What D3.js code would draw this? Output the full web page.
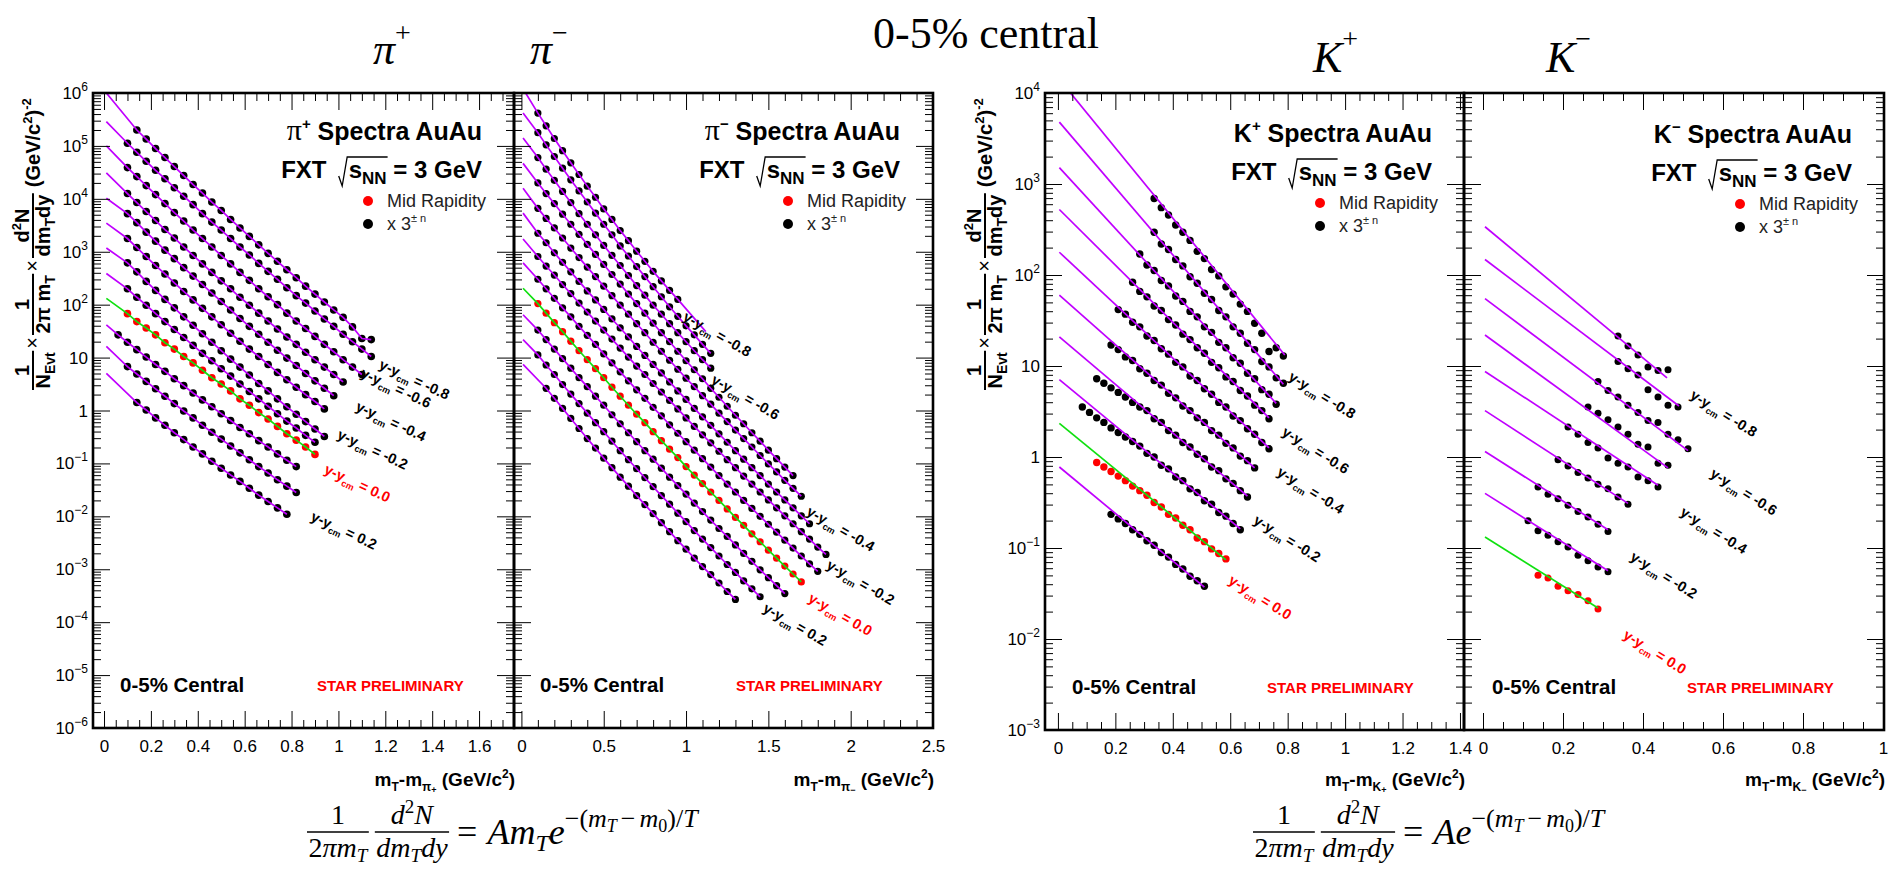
<!DOCTYPE html>
<html>
<head>
<meta charset="utf-8">
<script src="https://cdn.jsdelivr.net/npm/d3@7"></script>
<style>
  body { margin: 0; background: #fff; }
  svg { display: block; font-family: "Liberation Sans", Arial, Helvetica, sans-serif; }
</style>
</head>
<body>
<svg id="svg"></svg>
<script>
const _ = null;

// ---------------- data (log10 of the yield, one row per rapidity slice) ----------------
// pi+ : m_T - m_pi grid
const piPlusX = [0.06,0.10,0.14,0.18,0.22,0.26,0.30,0.34,0.38,0.42,0.46,0.50,0.54,0.58,0.62,0.66,0.70,0.74,0.78,0.82,0.86,0.90,0.94,0.98,1.02,1.06,1.10,1.14];
const piPlusRap = [-0.8,-0.7,-0.6,-0.5,-0.4,-0.3,-0.2,-0.1,0.0,0.1,0.2,0.3];
const piPlusLogY = [
  [_,_,5.30,5.13,4.95,4.78,4.61,4.44,4.27,4.11,3.94,3.78,3.61,3.45,3.29,3.13,2.97,2.82,2.66,2.51,2.35,2.20,2.05,1.90,1.76,1.58,1.36,1.34],
  [_,5.05,4.88,4.71,4.54,4.38,4.21,4.05,3.89,3.72,3.56,3.41,3.25,3.09,2.94,2.78,2.63,2.48,2.32,2.17,2.03,1.88,1.73,1.59,1.44,1.30,1.16,1.02],
  [_,4.59,4.42,4.25,4.08,3.91,3.74,3.58,3.41,3.25,3.09,2.93,2.77,2.61,2.46,2.30,2.15,2.00,1.84,1.69,1.55,1.40,1.25,1.11,0.96,0.82,0.68],
  [_,4.10,3.93,3.76,3.59,3.42,3.26,3.09,2.93,2.77,2.61,2.45,2.30,2.14,1.99,1.84,1.69,1.54,1.39,1.25,1.10,0.96,0.82,0.68,0.54],
  [_,3.72,3.55,3.37,3.20,3.03,2.87,2.70,2.54,2.38,2.22,2.06,1.90,1.74,1.59,1.44,1.29,1.14,0.99,0.85,0.70,0.56,0.42,0.28],
  [_,3.25,3.08,2.91,2.74,2.58,2.41,2.25,2.09,1.93,1.77,1.62,1.46,1.31,1.16,1.02,0.87,0.72,0.58,0.44,0.30,0.17,0.03],
  [_,2.79,2.62,2.44,2.27,2.10,1.94,1.77,1.61,1.45,1.29,1.13,0.97,0.82,0.67,0.51,0.37,0.22,0.07,-0.07,-0.21,-0.35,-0.49],
  [_,2.30,2.14,1.99,1.83,1.68,1.53,1.38,1.23,1.08,0.94,0.79,0.65,0.50,0.36,0.22,0.08,-0.06,-0.20,-0.33,-0.47,-0.60],
  [_,1.83,1.68,1.56,1.43,1.28,1.16,1.02,0.90,0.76,0.62,0.50,0.37,0.22,0.10,-0.04,-0.16,-0.30,-0.44,-0.56,-0.69,-0.83],
  [1.43,1.29,1.15,1.01,0.87,0.74,0.60,0.47,0.33,0.20,0.07,-0.06,-0.19,-0.32,-0.44,-0.57,-0.69,-0.82,-0.94,-1.06],
  [_,0.83,0.69,0.55,0.41,0.27,0.13,-0.01,-0.14,-0.28,-0.41,-0.54,-0.67,-0.80,-0.93,-1.06,-1.18,-1.31,-1.43,-1.55],
  [_,_,0.15,0.01,-0.14,-0.28,-0.42,-0.55,-0.69,-0.82,-0.96,-1.09,-1.22,-1.34,-1.47,-1.60,-1.72,-1.84,-1.96]
];
const piPlusFitStart = [6.00,5.46,5.00,4.49,4.01,3.54,3.07,2.59,2.12,1.62,1.21,0.70];

// pi- : m_T - m_pi grid
const piMinusX = [0.10,0.15,0.20,0.25,0.30,0.35,0.40,0.45,0.50,0.55,0.60,0.65,0.70,0.75,0.80,0.85,0.90,0.95,1.00,1.05,1.10,1.15,1.20,1.25,1.30,1.35,1.40,1.45,1.50,1.55,1.60,1.65,1.70,1.75,1.80,1.85];
const piMinusRap = [-0.8,-0.7,-0.6,-0.5,-0.4,-0.3,-0.2,-0.1,0.0,0.1,0.2,0.3];
const piMinusLogY = [
  [5.62,5.38,5.14,4.91,4.68,4.46,4.24,4.03,3.81,3.61,3.40,3.21,3.01,2.82,2.63,2.45,2.27,2.10],
  [5.25,5.02,4.80,4.58,4.36,4.15,3.94,3.73,3.52,3.32,3.11,2.92,2.72,2.53,2.34,2.15,1.96,1.78,1.60,1.43,1.25,1.08],
  [4.78,4.56,4.35,4.14,3.93,3.72,3.52,3.32,3.12,2.93,2.74,2.55,2.36,2.18,1.99,1.82,1.64,1.47,1.30,1.13,0.96,0.80],
  [4.30,4.10,3.91,3.71,3.52,3.33,3.14,2.95,2.76,2.57,2.39,2.20,2.02,1.84,1.65,1.47,1.30,1.12,0.94,0.77,0.60,0.42,0.25,0.08,-0.09,-0.25,-0.42,-0.58,-0.75,-0.91,-1.07,-1.23],
  [3.82,3.63,3.45,3.26,3.07,2.89,2.71,2.53,2.35,2.17,1.99,1.82,1.64,1.47,1.29,1.12,0.95,0.78,0.61,0.45,0.28,0.12,-0.05,-0.21,-0.37,-0.53,-0.69,-0.85,-1.01,-1.16,-1.32,-1.47,-1.62],
  [3.35,3.17,2.98,2.80,2.62,2.44,2.26,2.09,1.91,1.73,1.56,1.39,1.21,1.04,0.87,0.71,0.54,0.37,0.21,0.04,-0.12,-0.28,-0.44,-0.60,-0.76,-0.92,-1.08,-1.23,-1.39,-1.54,-1.69,-1.84,-1.99,-2.14],
  [2.91,2.73,2.56,2.38,2.21,2.03,1.86,1.69,1.52,1.35,1.18,1.01,0.84,0.68,0.51,0.35,0.19,0.03,-0.14,-0.30,-0.46,-0.61,-0.77,-0.93,-1.08,-1.24,-1.39,-1.54,-1.69,-1.84,-1.99,-2.14,-2.29,-2.43,-2.58,-2.72],
  [2.48,2.30,2.12,1.94,1.77,1.59,1.42,1.25,1.07,0.90,0.73,0.56,0.39,0.23,0.06,-0.10,-0.27,-0.43,-0.59,-0.75,-0.91,-1.07,-1.23,-1.39,-1.54,-1.70,-1.85,-2.00,-2.15,-2.30,-2.45,-2.60,-2.75,-2.90,-3.04],
  [2.02,1.84,1.66,1.49,1.31,1.13,0.96,0.79,0.62,0.44,0.27,0.10,-0.07,-0.23,-0.40,-0.57,-0.73,-0.89,-1.06,-1.22,-1.38,-1.54,-1.70,-1.86,-2.02,-2.17,-2.33,-2.48,-2.64,-2.79,-2.94,-3.09,-3.24],
  [1.52,1.34,1.16,0.98,0.80,0.62,0.45,0.27,0.10,-0.08,-0.25,-0.42,-0.59,-0.76,-0.92,-1.09,-1.26,-1.42,-1.58,-1.75,-1.91,-2.07,-2.23,-2.38,-2.54,-2.70,-2.85,-3.01,-3.16,-3.31,-3.46],
  [1.05,0.86,0.68,0.49,0.31,0.13,-0.05,-0.23,-0.40,-0.58,-0.76,-0.93,-1.10,-1.27,-1.44,-1.61,-1.77,-1.94,-2.10,-2.27,-2.43,-2.59,-2.75,-2.91,-3.06,-3.22,-3.37,-3.52],
  [_,0.42,0.23,0.04,-0.15,-0.34,-0.53,-0.71,-0.90,-1.08,-1.26,-1.43,-1.61,-1.78,-1.95,-2.12,-2.29,-2.46,-2.62,-2.79,-2.95,-3.10,-3.26,-3.42,-3.57]
];
const piMinusFitStart = [6.08,5.62,5.15,4.67,4.20,3.73,3.24,2.79,2.31,1.81,1.34,0.87];
const piMinusFitTail = [[1.12,1.49],_,_,_,_,_,_,_,_,_,_,_];

// K+ : m_T - m_K grid
const kPlusX = [0.085,0.11,0.135,0.16,0.185,0.21,0.235,0.26,0.285,0.31,0.335,0.36,0.385,0.41,0.435,0.46,0.485,0.51,0.535,0.56,0.585,0.61,0.635,0.66,0.685,0.71,0.735,0.76,0.785];
const kPlusRap = [-0.8,-0.7,-0.6,-0.5,-0.4,-0.3,-0.2,-0.1,0.0,0.1];
const kPlusLogY = [
  [_,_,_,_,_,_,_,_,_,_,2.84,2.74,2.66,2.55,2.47,2.38,2.26,2.18,2.06,1.99,1.87,1.79,1.68,1.60,1.47,1.36,1.16,1.20,1.11],
  [_,_,_,_,_,_,_,_,_,_,2.47,2.34,2.28,2.17,2.10,1.98,1.91,1.80,1.73,1.61,1.54,1.43,1.36,1.25,1.18,1.05,0.99,0.87,0.81],
  [_,_,_,_,_,_,_,_,2.23,2.11,2.05,1.94,1.88,1.77,1.71,1.60,1.54,1.43,1.37,1.26,1.20,1.09,1.03,0.92,0.86,0.74,0.69,0.58],
  [_,_,_,_,_,_,_,1.92,1.82,1.76,1.66,1.61,1.51,1.45,1.35,1.29,1.20,1.14,1.04,0.98,0.88,0.83,0.73,0.67,0.57,0.51,0.42],
  [_,_,_,_,_,1.62,1.57,1.48,1.43,1.33,1.28,1.19,1.13,1.04,0.99,0.89,0.84,0.75,0.69,0.60,0.55,0.45,0.40,0.31,0.25,0.16,0.09],
  [_,_,_,_,1.23,1.18,1.10,1.06,0.97,0.92,0.84,0.79,0.70,0.65,0.56,0.51,0.43,0.38,0.29,0.24,0.15,0.10,0.01,-0.04,-0.12],
  [_,_,0.86,0.81,0.76,0.71,0.66,0.60,0.55,0.51,0.42,0.38,0.29,0.24,0.16,0.11,0.03,-0.02,-0.11,-0.15,-0.24,-0.29,-0.37,-0.44],
  [0.55,0.49,0.43,0.38,0.32,0.27,0.22,0.17,0.12,0.04,0.00,-0.09,-0.13,-0.22,-0.26,-0.35,-0.39,-0.48,-0.52,-0.61,-0.65,-0.73,-0.80],
  [_,_,-0.06,-0.11,-0.16,-0.21,-0.26,-0.32,-0.37,-0.42,-0.50,-0.55,-0.63,-0.67,-0.75,-0.80,-0.89,-0.93,-1.01,-1.06,-1.12],
  [_,_,_,_,-0.63,-0.68,-0.73,-0.80,-0.85,-0.92,-0.97,-1.05,-1.10,-1.18,-1.23,-1.31,-1.36,-1.42]
];
const kPlusFitStart = [4.15,3.68,3.18,2.72,2.25,1.78,1.32,0.85,0.37,-0.11];
const kPlusFitEnd = [[0.79,1.12],[0.785,0.80],[0.76,0.59],[0.735,0.43],[0.735,0.10],[0.685,-0.12],[0.66,-0.43],[0.635,-0.79],[0.585,-1.13],[0.51,-1.43]];

// K- : m_T - m_K grid
const kMinusX = [0.1125,0.1375,0.1625,0.1875,0.2125,0.2375,0.2625,0.2875,0.3125,0.3375,0.3625,0.3875,0.4125,0.4375,0.4625,0.4875,0.5125];
const kMinusRap = [-0.8,-0.7,-0.6,-0.5,-0.4,-0.3,-0.2,-0.1,0.0];
const kMinusLogY = [
  [_,_,_,_,_,_,_,_,_,1.33,1.22,1.12,0.99,0.95,0.96],
  [_,_,_,_,_,_,_,_,_,1.05,0.97,0.90,0.74,0.66,0.57,0.55],
  [_,_,_,_,_,_,_,0.83,0.73,0.66,0.57,0.49,0.40,0.38,0.25,0.19,0.09],
  [_,_,_,_,_,_,0.55,0.48,0.41,0.33,0.25,0.14,0.11,-0.07,-0.09],
  [_,_,_,_,0.33,0.25,0.16,0.10,-0.01,-0.07,-0.11,-0.22,-0.26,-0.33],
  [_,_,_,-0.03,-0.10,-0.17,-0.23,-0.30,-0.35,-0.44,-0.52],
  [_,-0.33,-0.41,-0.46,-0.53,-0.60,-0.66,-0.74,-0.82],
  [-0.70,-0.81,-0.86,-0.93,-0.99,-1.08,-1.14,-1.21,-1.26],
  [_,-1.30,-1.33,-1.42,-1.47,-1.51,-1.58,-1.67]
];
const kMinusFitStart = [2.53,2.17,1.74,1.34,0.94,0.51,0.06,-0.40,-0.88];
const kMinusFitEnd = [[0.46,0.87],[0.49,0.56],[0.5125,0.07],[0.4625,-0.12],[0.4375,-0.31],[0.3625,-0.51],[0.3125,-0.80],[0.3125,-1.25],[0.2875,-1.66]];

// rapidity labels drawn beside the spectra: [rapidity, x, log10 y] (layout)
const piPlusLabelPos = [[-0.8,1.189,0.99],[-0.6,1.11,0.83],[-0.4,1.089,0.20],[-0.2,1.011,-0.33],[0.0,0.955,-0.99],[0.2,0.898,-1.88]];
const piMinusLabelPos = [[-0.8,1.009,1.90],[-0.6,1.181,0.71],[-0.4,1.759,-1.78],[-0.2,1.880,-2.79],[0.0,1.77,-3.42],[0.2,1.495,-3.61]];
const kPlusLabelPos = [[-0.8,0.82,0.956],[-0.6,0.797,0.35],[-0.4,0.78,-0.09],[-0.2,0.698,-0.62],[0.0,0.611,-1.28]];
const kMinusLabelPos = [[-0.8,0.53,0.755],[-0.6,0.58,-0.106],[-0.4,0.505,-0.53],[-0.2,0.38,-1.02],[0.0,0.363,-1.88]];

// ---------------- drawing ----------------
const W = 1889, H = 871;
const SANS = '"Liberation Sans", Arial, Helvetica, sans-serif';
const SERIF = '"Liberation Serif", "Times New Roman", serif';
const PURPLE = "#c000ff", GREEN = "#10e010", RED = "#ff0000";

const svg = d3.select("#svg").attr("width", W).attr("height", H);
svg.append("rect").attr("width", W).attr("height", H).attr("fill", "#fff");

function addText(parent, x, y, parts, style = {}) {
  const t = parent.append("text").attr("x", x).attr("y", y);
  Object.entries(style).forEach(([k, v]) => t.style(k, v));
  parts.forEach(p => {
    const s = t.append("tspan").text(p.t);
    if (p.dx) s.attr("dx", p.dx);
    if (p.dy) s.attr("dy", p.dy);
    if (p.size) s.style("font-size", p.size + "px");
    if (p.weight) s.style("font-weight", p.weight);
    if (p.style) s.style("font-style", p.style);
    if (p.family) s.style("font-family", p.family);
  });
  return t;
}

// fraction: numerator over denominator, bar at barY, returns right end
function frac(g, u, num, den, numBase, denBase, barW, barY = 0) {
  const n = addText(g, 0, numBase, num);
  const d = addText(g, 0, denBase, den);
  const wn = n.node().getComputedTextLength();
  const wd = d.node().getComputedTextLength();
  const w = Math.max(wn, wd) + 3;
  n.attr("x", u + (w - wn) / 2);
  d.attr("x", u + (w - wd) / 2);
  g.append("line").attr("x1", u).attr("x2", u + w).attr("y1", barY).attr("y2", barY)
    .attr("stroke", "#000").attr("stroke-width", barW);
  return u + w;
}

function drawYTitle(cx, yStart) {
  const g = svg.append("g").attr("transform", `translate(${cx},${yStart}) rotate(-90)`)
    .style("font-family", SANS).style("font-size", "20px").style("font-weight", "bold");
  let u = 0;
  u = frac(g, u, [{t: "1"}], [{t: "N"}, {t: "Evt", size: 14, dy: 5}], -4, 17, 2);
  let t = addText(g, u + 2, 6, [{t: "\u00d7", weight: "normal"}]);
  u += 4 + t.node().getComputedTextLength();
  u = frac(g, u, [{t: "1"}], [{t: "2\u03c0 m"}, {t: "T", size: 14, dy: 5}], -4, 17, 2);
  t = addText(g, u + 2, 6, [{t: "\u00d7", weight: "normal"}]);
  u += 4 + t.node().getComputedTextLength();
  u = frac(g, u, [{t: "d"}, {t: "2", size: 13, dy: -8}, {t: "N", dy: 8}],
    [{t: "dm"}, {t: "T", size: 14, dy: 5}, {t: "dy", dy: -5}], -4, 17, 2);
  addText(g, u + 6, 7, [{t: "(GeV/c"}, {t: "2", size: 13, dy: -8}, {t: ")", dy: 8}, {t: "-2", size: 13, dy: -9}]);
}

function rapLabel(g, px, py, angle, rap, color) {
  const txt = rap === 0 ? "0.0" : rap.toFixed(1);
  const t = g.append("text").attr("transform", `translate(${px},${py}) rotate(${angle})`)
    .attr("y", 11).style("font-size", "14.5px").style("font-weight", "bold").attr("fill", color);
  t.append("tspan").text("y-y");
  t.append("tspan").text("cm").style("font-size", "9px").attr("dy", 4);
  t.append("tspan").text(" = " + txt).attr("dy", -4);
}

function fxtLine(g, xr, yb) {
  const t = addText(g, xr, yb, [{t: "FXT"}, {t: "s", dx: 24}, {t: "NN", size: 17, dy: 6}, {t: " = 3 GeV", dy: -6}],
    {"text-anchor": "end", "font-size": "24px", "font-weight": "bold"});
  const n = t.node();
  const e1 = n.getExtentOfChar(3), e2 = n.getExtentOfChar(5);
  const sx = e1.x, ex = e2.x + e2.width;
  g.append("path").attr("d", `M${sx - 10},${yb - 2} L${sx - 6.5},${yb + 8} L${sx - 1.5},${yb - 21} L${ex + 1},${yb - 21}`)
    .attr("fill", "none").attr("stroke", "#000").attr("stroke-width", 1.3);
}

function drawPanel(p) {
  const x = d3.scaleLinear().domain(p.xDomain).range([p.left, p.right]);
  const y = d3.scaleLog().domain(p.yDomain).range([p.bottom, p.top]);
  const yv = L => y(Math.pow(10, L));
  const g = svg.append("g");
  const clipId = "clip-" + p.key;
  svg.append("clipPath").attr("id", clipId).append("rect")
    .attr("x", p.left).attr("y", p.top).attr("width", p.right - p.left).attr("height", p.bottom - p.top);
  const plot = g.append("g").attr("clip-path", `url(#${clipId})`);

  const points = si => {
    const pts = [];
    p.rows[si].forEach((v, k) => { if (v !== null) pts.push([p.xs[k], v]); });
    return pts;
  };

  // measured points
  p.rows.forEach((row, si) => {
    plot.append("g").selectAll("circle").data(points(si)).join("circle")
      .attr("cx", d => x(d[0])).attr("cy", d => yv(d[1])).attr("r", p.r)
      .attr("fill", p.rap[si] === 0 ? RED : "#000");
  });

  // fit curves
  const line = d3.line().x(d => x(d[0])).y(d => yv(d[1]));
  p.rows.forEach((row, si) => {
    plot.append("path").datum(p.fit(si, points(si))).attr("d", line).attr("fill", "none")
      .attr("stroke", p.rap[si] === 0 ? GREEN : PURPLE).attr("stroke-width", 1.7);
  });

  // axes
  const steps = (max, s) => d3.range(0, Math.round(max / s) + 1).map(i => +(i * s).toFixed(4));
  const major = steps(p.xMax, p.xMajor);
  const minor = steps(p.xDomain[1], p.xMinor)
    .filter(v => v <= p.xDomain[1] && !major.some(m => Math.abs(m - v) < 1e-6));
  const e0 = Math.round(Math.log10(p.yDomain[0])), e1 = Math.round(Math.log10(p.yDomain[1]));
  const decades = d3.range(e0, e1 + 1).map(e => Math.pow(10, e));
  const yMinor = [];
  decades.slice(0, -1).forEach(d => { for (let m = 2; m <= 9; m++) yMinor.push(d * m); });

  const axG = g.append("g");
  const mk = (axis, tr) => axG.append("g").attr("transform", tr).call(axis).call(s => s.select(".domain").remove());
  mk(d3.axisBottom(x).tickValues(major).tickSizeInner(-17).tickSizeOuter(0).tickPadding(12).tickFormat(d => String(d)), `translate(0,${p.bottom})`);
  mk(d3.axisBottom(x).tickValues(minor).tickSizeInner(-8).tickSizeOuter(0).tickFormat(""), `translate(0,${p.bottom})`);
  mk(d3.axisTop(x).tickValues(major).tickSizeInner(-17).tickSizeOuter(0).tickFormat(""), `translate(0,${p.top})`);
  mk(d3.axisTop(x).tickValues(minor).tickSizeInner(-8).tickSizeOuter(0).tickFormat(""), `translate(0,${p.top})`);
  mk(d3.axisLeft(y).tickValues(decades).tickSizeInner(-17).tickSizeOuter(0).tickFormat(""), `translate(${p.left},0)`);
  mk(d3.axisLeft(y).tickValues(yMinor).tickSizeInner(-8).tickSizeOuter(0).tickFormat(""), `translate(${p.left},0)`);
  mk(d3.axisRight(y).tickValues(decades).tickSizeInner(-17).tickSizeOuter(0).tickFormat(""), `translate(${p.right},0)`);
  mk(d3.axisRight(y).tickValues(yMinor).tickSizeInner(-8).tickSizeOuter(0).tickFormat(""), `translate(${p.right},0)`);
  axG.selectAll("line").attr("stroke", "#000").attr("stroke-width", 1);
  axG.selectAll("text").style("font-size", "17px").style("font-family", SANS).attr("fill", "#000");

  if (p.yLabels) {
    d3.range(e0, e1 + 1).forEach(e => {
      const parts = e === 0 ? [{t: "1"}] : e === 1 ? [{t: "10"}] :
        [{t: "10"}, {t: e < 0 ? "\u2212" + (-e) : String(e), size: 12, dy: -8}];
      addText(g, p.left - 5, y(Math.pow(10, e)) + 6, parts, {"text-anchor": "end", "font-size": "17px"});
    });
  }

  g.append("rect").attr("x", p.left).attr("y", p.top).attr("width", p.right - p.left).attr("height", p.bottom - p.top)
    .attr("fill", "none").attr("stroke", "#000").attr("stroke-width", 2.6);

  // rapidity labels
  p.labels.forEach(([rap, lx, lL]) => rapLabel(g, x(lx), yv(lL), p.angle, rap, rap === 0 ? RED : "#000"));

  // species title, energy line, legend
  const sym = p.species === "pi"
    ? {t: "\u03c0", family: SERIF, weight: "normal", size: 30}
    : {t: "K"};
  addText(g, p.titleX, p.titleY, [sym, {t: p.charge, size: 15, dy: -11}, {t: " Spectra AuAu", dy: 11}],
    {"text-anchor": "end", "font-size": "25px", "font-weight": "bold"});
  fxtLine(g, p.titleX, p.titleY + 38);
  const ly = p.titleY + 61;
  g.append("circle").attr("cx", p.legendX).attr("cy", ly).attr("r", 5).attr("fill", RED);
  g.append("circle").attr("cx", p.legendX).attr("cy", ly + 23).attr("r", 5).attr("fill", "#000");
  addText(g, p.legendX + 19, ly + 6, [{t: "Mid Rapidity"}], {"font-size": "18px", "fill": "#222"});
  addText(g, p.legendX + 19, ly + 29, [{t: "x 3"}, {t: "\u00b1 n", size: 11, dy: -8}], {"font-size": "18px", "fill": "#222"});

  addText(g, p.centralX, p.bottom - 36, [{t: "0-5% Central"}], {"font-size": "20.5px", "font-weight": "bold"});
  addText(g, p.prelimX, p.bottom - 37, [{t: "STAR PRELIMINARY"}], {"font-size": "15px", "font-weight": "bold", "fill": RED});

  // x-axis title
  const particle = p.species === "pi" ? "\u03c0" : "K";
  addText(g, p.right + 1, 786, [
    {t: "m"}, {t: "T", size: 12, dy: 5}, {t: "-m", dy: -5}, {t: particle, size: 12, dy: 5},
    {t: p.charge, size: 9, dy: 2}, {t: " (GeV/c", dy: -7}, {t: "2", size: 12, dy: -8}, {t: ")", dy: 8}
  ], {"text-anchor": "end", "font-size": "19px", "font-weight": "bold"});
}

const pionFit = (starts, tails) => (si, pts) => {
  const k = [[0.01, starts[si]], ...pts];
  if (tails && tails[si]) k.push(tails[si]);
  return k;
};
const kaonFit = (starts, ends) => (si) => [[0.005, starts[si]], ends[si]];

const panels = [
  {key: "pip", species: "pi", charge: "+", left: 93, right: 514, top: 93, bottom: 728,
   xDomain: [-0.047, 1.749], yDomain: [1e-6, 1e6], xMax: 1.6, xMajor: 0.2, xMinor: 0.05, yLabels: true, r: 3.8,
   xs: piPlusX, rows: piPlusLogY, rap: piPlusRap, fit: pionFit(piPlusFitStart, null),
   labels: piPlusLabelPos, angle: 25, titleX: 482, titleY: 140, legendX: 368, centralX: 120, prelimX: 317},
  {key: "pim", species: "pi", charge: "\u2212", left: 514, right: 933, top: 93, bottom: 728,
   xDomain: [-0.045, 2.5], yDomain: [1e-6, 1e6], xMax: 2.5, xMajor: 0.5, xMinor: 0.1, yLabels: false, r: 3.6,
   xs: piMinusX, rows: piMinusLogY, rap: piMinusRap, fit: pionFit(piMinusFitStart, piMinusFitTail),
   labels: piMinusLabelPos, angle: 30, titleX: 900, titleY: 140, legendX: 788, centralX: 540, prelimX: 736},
  {key: "kp", species: "K", charge: "+", left: 1045, right: 1464, top: 93, bottom: 730,
   xDomain: [-0.045, 1.414], yDomain: [1e-3, 1e4], xMax: 1.4, xMajor: 0.2, xMinor: 0.05, yLabels: true, r: 3.7,
   xs: kPlusX, rows: kPlusLogY, rap: kPlusRap, fit: kaonFit(kPlusFitStart, kPlusFitEnd),
   labels: kPlusLabelPos, angle: 32, titleX: 1432, titleY: 142, legendX: 1320, centralX: 1072, prelimX: 1267},
  {key: "km", species: "K", charge: "\u2212", left: 1464, right: 1884, top: 93, bottom: 730,
   xDomain: [-0.0475, 1.0025], yDomain: [1e-3, 1e4], xMax: 1.0, xMajor: 0.2, xMinor: 0.05, yLabels: false, r: 3.5,
   xs: kMinusX, rows: kMinusLogY, rap: kMinusRap, fit: kaonFit(kMinusFitStart, kMinusFitEnd),
   labels: kMinusLabelPos, angle: 32, titleX: 1852, titleY: 143, legendX: 1740, centralX: 1492, prelimX: 1687}
];

panels.forEach(drawPanel);
drawYTitle(33, 390);
drawYTitle(985, 390);

// headings
const head = svg.append("g").style("font-family", SERIF);
addText(head, 373, 64, [{t: "\u03c0", style: "italic"}, {t: "+", size: 28, dy: -22}], {"font-size": "44px"});
addText(head, 530, 64, [{t: "\u03c0", style: "italic"}, {t: "\u2212", size: 28, dy: -22}], {"font-size": "44px"});
addText(head, 873, 48, [{t: "0-5% central"}], {"font-size": "44px"});
addText(head, 1313, 72, [{t: "K", style: "italic"}, {t: "+", size: 28, dy: -24}], {"font-size": "44px"});
addText(head, 1546, 72, [{t: "K", style: "italic"}, {t: "\u2212", size: 28, dy: -24}], {"font-size": "44px"});

// fit functions written under the panels
function drawFormula(x0, withMt) {
  const g = svg.append("g").style("font-family", SERIF).style("font-size", "28px");
  const I = "italic";
  let u = x0;
  u = frac(g, u, [{t: "1"}], [{t: "2"}, {t: "\u03c0m", style: I}, {t: "T", style: I, size: 19, dy: 5}], 824, 857, 1.6, 832);
  u += 6;
  u = frac(g, u, [{t: "d", style: I}, {t: "2", size: 19, dy: -11}, {t: "N", style: I, dy: 11}],
    [{t: "dm", style: I}, {t: "T", style: I, size: 19, dy: 5}, {t: "dy", style: I, dy: -5}], 824, 857, 1.6, 832);
  const rhs = [{t: "=", dx: 8}, {t: "A", style: I, dx: 10}];
  if (withMt) rhs.push({t: "m", style: I}, {t: "T", style: I, size: 24, dy: 7}, {t: "e", style: I, dy: -7});
  else rhs.push({t: "e", style: I});
  rhs.push({t: "\u2212(", size: 26, dy: -17}, {t: "m", style: I, size: 26}, {t: "T", style: I, size: 18, dy: 5},
    {t: "\u2212", size: 26, dy: -5, dx: 4}, {t: "m", style: I, size: 26, dx: 4}, {t: "0", size: 18, dy: 5},
    {t: ")/", size: 26, dy: -5}, {t: "T", style: I, size: 26});
  addText(g, u, 844, rhs, {"font-size": "36px"});
}
drawFormula(307, true);
drawFormula(1253, false);
</script>
</body>
</html>
